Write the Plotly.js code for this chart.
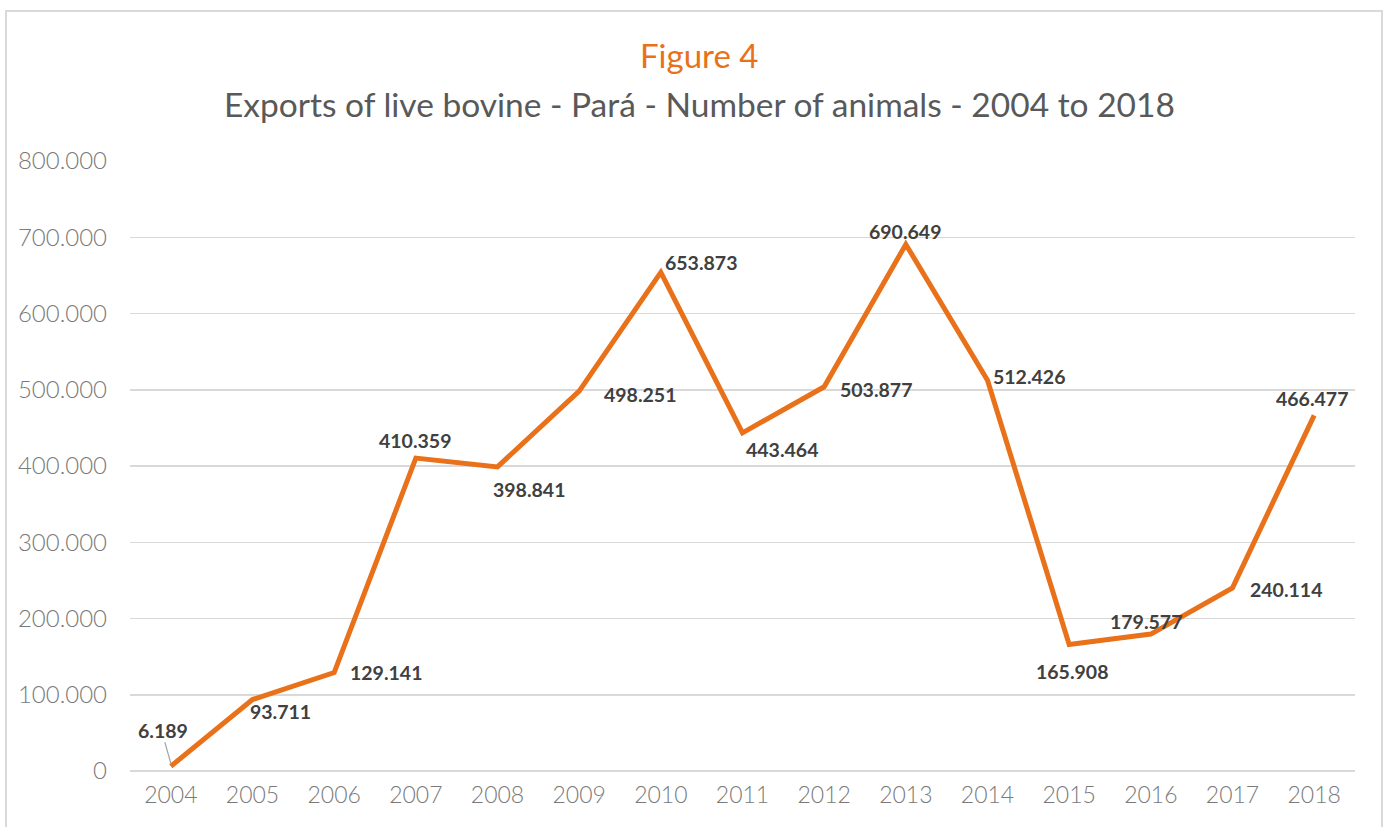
<!DOCTYPE html>
<html>
<head>
<meta charset="utf-8">
<script src="https://cdn.plot.ly/plotly-3.0.1.min.js"></script>
<style>
  html, body { margin: 0; padding: 0; background: #fff; }
  #wrap { position: relative; width: 1392px; height: 827px; overflow: hidden; }
  #chart { position: absolute; left: 0; top: 0; width: 1392px; height: 827px; }
  #frame { position: absolute; left: 5px; top: 10px; width: 1378px; height: 830px;
           border: 2px solid #d9d9d9; pointer-events: none; box-sizing: border-box; }
</style>
</head>
<body>
<div id="wrap">
  <div id="chart"></div>
  <div id="frame"></div>
</div>
<script>
const years = ['2004','2005','2006','2007','2008','2009','2010','2011','2012','2013','2014','2015','2016','2017','2018'];
const animals = [6189, 93711, 129141, 410359, 398841, 498251, 653873, 443464, 503877, 690649, 512426, 165908, 179577, 240114, 466477];
const yTickVals = [0, 100000, 200000, 300000, 400000, 500000, 600000, 700000, 800000];
const yTickText = ['0', '100.000', '200.000', '300.000', '400.000', '500.000', '600.000', '700.000', '800.000'];

// label placement offsets (pixels, relative to each point; +y is up)
const labelDx = [-8, 28, 52, 0, 32, 61, 41, 40, 52, 0, 42, 3, -4, 54, -2];
const labelDy = [36, -12, 0, 18, -23, -3, 10, -17, -3, 13, 4, -27, 13, -2, 17];

function fmt(v) {
  return String(v).replace(/\B(?=(\d{3})+(?!\d))/g, '.');
}

const orange = '#E8711A';
const FONT = 'Lato, "Open Sans", sans-serif';
const labelFont = { family: FONT, size: 19.5, color: '#404040', weight: 'bold' };

// category index positions on the category axis
const annotations = animals.map((v, i) => ({
  x: years.indexOf(years[i]), y: v, xref: 'x', yref: 'y',
  text: fmt(v), font: labelFont, showarrow: false,
  xshift: labelDx[i], yshift: labelDy[i],
  xanchor: 'center', yanchor: 'middle'
}));

annotations.push({
  xref: 'paper', yref: 'paper', x: 0.4645, y: 1, xanchor: 'center', yanchor: 'bottom',
  yshift: 84, showarrow: false, text: 'Figure 4',
  font: { family: FONT, size: 33, color: orange }
});
annotations.push({
  xref: 'paper', yref: 'paper', x: 0.4645, y: 1, xanchor: 'center', yanchor: 'bottom',
  yshift: 35, showarrow: false, text: 'Exports of live bovine - Pará - Number of animals - 2004 to 2018',
  font: { family: FONT, size: 33.5, color: '#595959' }
});

// leader line for the first label
const shapes = [{
  type: 'line', xref: 'x', yref: 'y',
  xsizemode: 'pixel', ysizemode: 'pixel',
  xanchor: 0, yanchor: animals[0],
  x0: -6, x1: 0, y0: 24, y1: 3,
  line: { color: '#a6a6a6', width: 1.2 }
}];

const trace = {
  type: 'scatter', mode: 'lines',
  x: years, y: animals,
  line: { color: orange, width: 5 },
  hoverinfo: 'none'
};

const layout = {
  width: 1392, height: 827,
  margin: { l: 130, r: 37, t: 161, b: 56 },
  paper_bgcolor: '#fff', plot_bgcolor: '#fff',
  showlegend: false,
  xaxis: {
    type: 'category', range: [-0.5, 14.5],
    showgrid: false, zeroline: false, showline: false, ticks: '',
    tickfont: { family: FONT, size: 23, color: '#7a7a7a', weight: 300 },
    ticklabelstandoff: 8
  },
  yaxis: {
    range: [0, 800000], tickvals: yTickVals, ticktext: yTickText,
    showgrid: true, gridcolor: '#d9d9d9', gridwidth: 1.5,
    zeroline: true, zerolinecolor: '#d9d9d9', zerolinewidth: 1.5,
    showline: false, ticks: '',
    tickfont: { family: FONT, size: 24, color: '#7a7a7a', weight: 300 },
    ticklabelstandoff: 22
  },
  shapes: shapes,
  annotations: annotations
};

Plotly.newPlot('chart', [trace], layout, { displayModeBar: false, staticPlot: true });
</script>
</body>
</html>
